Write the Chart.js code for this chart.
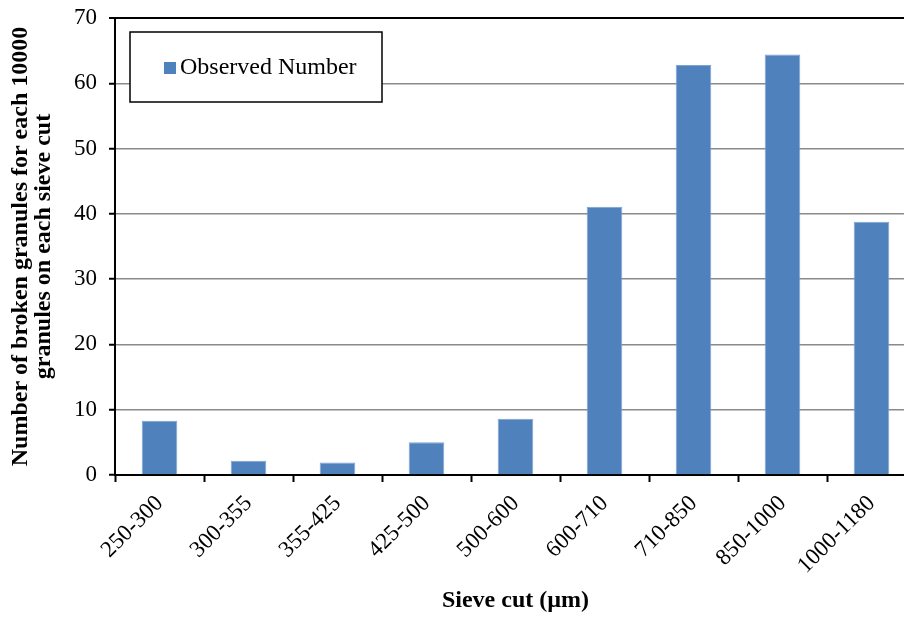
<!DOCTYPE html>
<html>
<head>
<meta charset="utf-8">
<script src="https://cdn.jsdelivr.net/npm/chart.js@4/dist/chart.umd.min.js"></script>
<style>
  html, body { margin: 0; padding: 0; background: #fff; overflow: hidden; }
  #wrap { position: relative; width: 920px; height: 619px; }
</style>
</head>
<body>
<div id="wrap"><canvas id="chart"></canvas></div>
<script>
const sieveCuts = ['250-300', '300-355', '355-425', '425-500', '500-600', '600-710', '710-850', '850-1000', '1000-1180'];
const observedNumber = [8.3, 2.2, 1.9, 5.0, 8.6, 41.1, 62.8, 64.4, 38.8];
const yTicks = [0, 10, 20, 30, 40, 50, 60, 70];

const serif = 'Liberation Serif, Times New Roman, serif';

// boxed legend drawn inside the plot area
const boxLegend = {
  id: 'boxLegend',
  afterDraw(chart) {
    const ctx = chart.ctx;
    const a = chart.chartArea;
    const ds = chart.data.datasets[0];
    const x = a.left + 15, y = a.top + 14, w = 252, h = 70;
    ctx.save();
    ctx.fillStyle = '#fff';
    ctx.fillRect(x, y, w, h);
    ctx.strokeStyle = '#000';
    ctx.lineWidth = 1.5;
    ctx.strokeRect(x, y, w, h);
    ctx.fillStyle = ds.backgroundColor;
    ctx.fillRect(x + 34, y + 30, 12, 12);
    ctx.fillStyle = '#000';
    ctx.font = '24px ' + serif;
    ctx.textBaseline = 'middle';
    ctx.fillText(ds.label, x + 50, y + 36);
    ctx.restore();
  }
};

new Chart('chart', {
  type: 'bar',
  data: {
    labels: sieveCuts,
    datasets: [{
      label: 'Observed Number',
      data: observedNumber,
      backgroundColor: '#4F81BD',
      borderColor: '#7EA3D2',
      borderWidth: 1,
      barPercentage: 0.4,
      categoryPercentage: 1.0
    }]
  },
  options: {
    responsive: true,
    maintainAspectRatio: false,
    animation: false,
    layout: { padding: { left: 6, right: 4, top: 18, bottom: 0 } },
    plugins: {
      legend: { display: false },
      tooltip: { enabled: false }
    },
    scales: {
      x: {
        offset: true,
        grid: {
          offset: true,
          drawOnChartArea: false,
          drawTicks: true,
          tickLength: 7,
          tickColor: '#000',
          tickWidth: 2
        },
        border: { color: '#000', width: 2 },
        ticks: {
          color: '#000',
          font: { family: serif, size: 23 },
          minRotation: 45,
          maxRotation: 45,
          padding: 8
        },
        title: {
          display: true,
          text: 'Sieve cut (µm)',
          color: '#000',
          font: { family: serif, size: 24, weight: 'bold' },
          padding: { top: 0, bottom: 4 }
        },
        afterFit(scale) { scale.height = 144; }
      },
      y: {
        min: 0,
        max: 70,
        afterBuildTicks(scale) { scale.ticks = yTicks.map(v => ({ value: v })); },
        grid: {
          color: ctx => ctx.tick && ctx.tick.value === 70 ? '#000' : '#8A8A8A',
          lineWidth: ctx => ctx.tick && ctx.tick.value === 70 ? 2 : 1.5,
          tickLength: 6,
          tickColor: '#000',
          tickWidth: 2
        },
        border: { color: '#000', width: 2 },
        ticks: {
          color: '#000',
          font: { family: serif, size: 23 },
          padding: 12
        },
        title: {
          display: true,
          text: ['Number of broken granules for each 10000', 'granules on each sieve cut'],
          color: '#000',
          font: { family: serif, size: 24, weight: 'bold', lineHeight: 0.96 },
          padding: { top: 3, bottom: 4 }
        },
        afterFit(scale) {
          scale.width = 109;
          scale.paddingTop = 0;
        }
      }
    }
  },
  plugins: [boxLegend]
});
</script>
</body>
</html>
